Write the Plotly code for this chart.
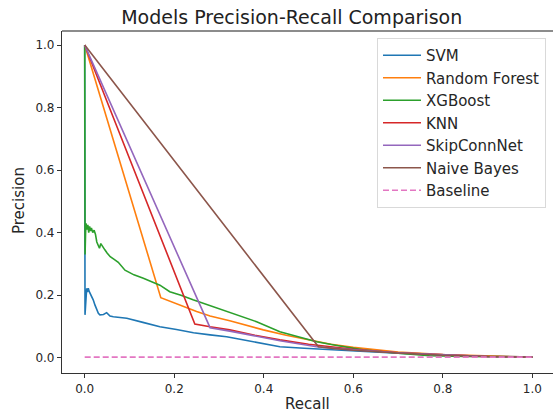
import plotly.graph_objects as go

# ---- data ----
svm_recall = [0, 0.0007, 0.003, 0.0045, 0.006, 0.008, 0.010, 0.012, 0.0156, 0.019,
              0.023, 0.0305, 0.034, 0.042, 0.049, 0.0565, 0.064, 0.094, 0.13, 0.168,
              0.205, 0.243, 0.28, 0.317, 0.35, 0.384, 0.436, 0.49, 0.548, 0.6,
              0.7, 0.8, 0.9, 1.0]
svm_precision = [1.0, 0.137, 0.19, 0.222, 0.21, 0.222, 0.212, 0.206, 0.20, 0.185,
                 0.168, 0.142, 0.137, 0.138, 0.144, 0.133, 0.131, 0.126, 0.113, 0.099,
                 0.090, 0.080, 0.073, 0.067, 0.058, 0.049, 0.035, 0.030, 0.025, 0.021,
                 0.014, 0.008, 0.004, 0.0017]

rf_recall = [0, 0.170, 0.25, 0.28, 0.324, 0.399, 0.45, 0.503, 0.55, 0.6, 0.7, 0.8, 0.9, 1.0]
rf_precision = [1.0, 0.192, 0.148, 0.133, 0.118, 0.089, 0.072, 0.057, 0.043, 0.033, 0.018, 0.010, 0.005, 0.0017]

xgb_recall = [0, 0.0004, 0.0008, 0.002, 0.003, 0.005, 0.007, 0.009, 0.011, 0.013,
              0.015, 0.018, 0.021, 0.024, 0.027, 0.030, 0.033, 0.036, 0.040, 0.045,
              0.050, 0.057, 0.065, 0.075, 0.09, 0.11, 0.131, 0.15, 0.168, 0.19,
              0.215, 0.242, 0.28, 0.317, 0.35, 0.384, 0.436, 0.48, 0.518, 0.56,
              0.622, 0.7, 0.77, 0.85, 0.92, 1.0]
xgb_precision = [1.0, 0.50, 0.33, 0.40, 0.43, 0.41, 0.425, 0.40, 0.42, 0.405,
                 0.415, 0.40, 0.408, 0.395, 0.37, 0.36, 0.35, 0.365, 0.355, 0.345,
                 0.335, 0.323, 0.315, 0.305, 0.28, 0.265, 0.254, 0.243, 0.232, 0.211,
                 0.200, 0.185, 0.166, 0.147, 0.130, 0.115, 0.083, 0.065, 0.051, 0.040,
                 0.025, 0.014, 0.006, 0.004, 0.003, 0.0017]

knn_recall = [0, 0.246, 0.28, 0.324, 0.38, 0.436, 0.5, 0.55, 0.6, 0.7, 0.8, 0.9, 1.0]
knn_precision = [1.0, 0.108, 0.099, 0.089, 0.072, 0.057, 0.043, 0.035, 0.027, 0.016, 0.009, 0.004, 0.0017]

skip_recall = [0, 0.28, 0.324, 0.38, 0.436, 0.518, 0.56, 0.6, 0.7, 0.8, 0.9, 1.0]
skip_precision = [1.0, 0.096, 0.085, 0.069, 0.054, 0.035, 0.029, 0.025, 0.016, 0.009, 0.004, 0.0017]

nb_recall = [0, 0.522, 0.56, 0.6, 0.7, 0.8, 0.9, 1.0]
nb_precision = [1.0, 0.035, 0.029, 0.024, 0.015, 0.008, 0.004, 0.0017]

baseline_recall = [0, 1]
baseline_precision = [0.0017, 0.0017]

tick_values = [0.0, 0.2, 0.4, 0.6, 0.8, 1.0]

series = [
    ("SVM", svm_recall, svm_precision, "#1f77b4"),
    ("Random Forest", rf_recall, rf_precision, "#ff7f0e"),
    ("XGBoost", xgb_recall, xgb_precision, "#2ca02c"),
    ("KNN", knn_recall, knn_precision, "#d62728"),
    ("SkipConnNet", skip_recall, skip_precision, "#9467bd"),
    ("Naive Bayes", nb_recall, nb_precision, "#8c564b"),
]

fig = go.Figure()
for name, r, p, c in series:
    fig.add_trace(go.Scatter(x=r, y=p, mode="lines", name=name,
                             line=dict(color=c, width=1.6)))
fig.add_trace(go.Scatter(x=baseline_recall, y=baseline_precision, mode="lines",
                         name="Baseline",
                         line=dict(color="#e377c2", width=1.6, dash="6px,3px")))

axis_common = dict(
    showgrid=False, zeroline=False, showline=True, linecolor="#333333", linewidth=1.2,
    ticks="outside", ticklen=4, tickwidth=1, tickcolor="#333333",
    tickvals=tick_values, tickformat=".1f", automargin=False,
    tickfont=dict(family="DejaVu Sans", size=12, color="#262626"),
)

W, H = 553, 417
PL, PR, PT, PB = 62, 0, 31, 44
pw, ph = W - PL - PR, H - PT - PB

fig.update_layout(
    width=W, height=H,
    margin=dict(l=PL, r=PR, t=PT, b=PB, autoexpand=False),
    paper_bgcolor="white", plot_bgcolor="white",
    font=dict(family="DejaVu Sans", color="#262626"),
    title=dict(text="Models Precision-Recall Comparison",
               x=291.7 / W, xref="container", xanchor="center",
               y=1 - 17 / H, yref="container", yanchor="middle",
               font=dict(family="DejaVu Sans", size=19, color="#222222")),
    xaxis=dict(range=[-0.0507, 1.046], **axis_common),
    yaxis=dict(range=[-0.049, 1.045], **axis_common),
    legend=dict(x=(377 - PL) / pw, y=(H - PB - 38) / ph,
                xanchor="left", yanchor="top", itemwidth=38,
                bgcolor="rgba(255,255,255,0.9)", bordercolor="#d9d9d9", borderwidth=1,
                font=dict(family="DejaVu Sans", size=15, color="#262626"),
                tracegroupgap=0),
    showlegend=True,
    shapes=[dict(type="line", xref="paper", yref="paper", x0=0, x1=1, y0=1, y1=1,
                 line=dict(color="#8c8c8c", width=2))],
    annotations=[
        dict(text="Recall", xref="paper", yref="paper",
             x=(307 - PL) / pw, y=(H - PB - 404) / ph,
             xanchor="center", yanchor="middle",
             showarrow=False, font=dict(family="DejaVu Sans", size=15, color="#262626")),
        dict(text="Precision", xref="paper", yref="paper", textangle=-90,
             x=(19 - PL) / pw, y=(H - PB - 201) / ph,
             xanchor="center", yanchor="middle",
             showarrow=False, font=dict(family="DejaVu Sans", size=15, color="#262626")),
    ],
)

fig.write_html("out.html",
               config={"displayModeBar": False},
               post_script="document.body.style.margin='0px';"
                           "document.body.style.overflow='hidden';")
